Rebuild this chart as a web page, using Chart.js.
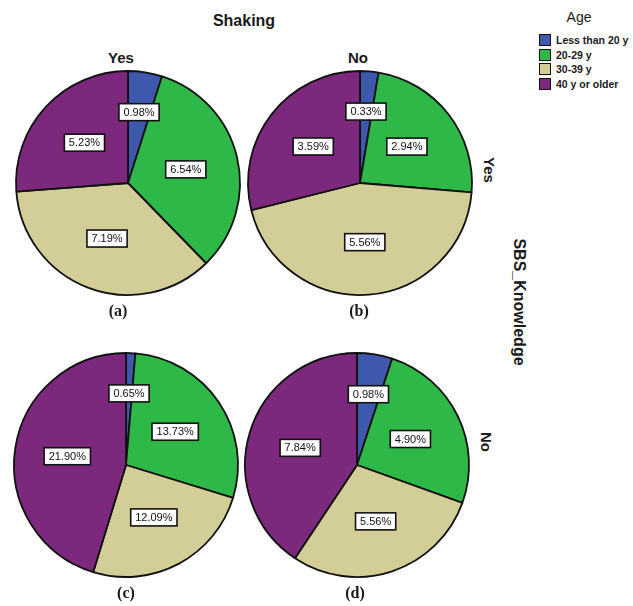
<!DOCTYPE html>
<html>
<head>
<meta charset="utf-8">
<script src="https://cdn.jsdelivr.net/npm/chart.js@4.4.1/dist/chart.umd.min.js"></script>
<style>
  html, body { margin: 0; padding: 0; background: #fff; }
  #wrap { position: relative; width: 633px; height: 606px; overflow: hidden; font-family: "Liberation Sans", Arial, sans-serif; color: #1a1a1a; }
  .pie { position: absolute; width: 240px; height: 240px; }
  .t { position: absolute; white-space: nowrap; transform: translate(-50%, -50%); }
  .hdr { font-weight: bold; font-size: 15px; }
  .rot { transform: translate(-50%, -50%) rotate(90deg); }
  .sub { font-family: "Liberation Serif", "Times New Roman", serif; font-weight: bold; font-size: 16px; }
  .leg { position: absolute; left: 539px; font-size: 10.5px; font-weight: bold; white-space: nowrap; }
  .leg span.box { display: inline-block; width: 10px; height: 10px; border: 1px solid #111; vertical-align: middle; margin-right: 5px; }
  .leg span.lbl { vertical-align: middle; }
</style>
</head>
<body>
<div id="wrap">
  <div class="t hdr" style="left:244px;top:21px;font-size:16px;">Shaking</div>
  <div class="t hdr" style="left:121px;top:57px;">Yes</div>
  <div class="t hdr" style="left:358px;top:57px;">No</div>
  <div class="t hdr rot" style="left:489px;top:170px;">Yes</div>
  <div class="t hdr rot" style="left:486px;top:442px;">No</div>
  <div class="t hdr rot" style="left:519px;top:302px;font-size:16px;">SBS_Knowledge</div>

  <div class="t" style="left:579px;top:17px;font-size:14px;">Age</div>
  <div id="legend"></div>

  <div class="pie" style="left:8px;top:63px;"><canvas id="pa" width="240" height="240"></canvas></div>
  <div class="pie" style="left:240px;top:63px;"><canvas id="pb" width="240" height="240"></canvas></div>
  <div class="pie" style="left:6px;top:345px;"><canvas id="pc" width="240" height="240"></canvas></div>
  <div class="pie" style="left:237px;top:345px;"><canvas id="pd" width="240" height="240"></canvas></div>

  <div class="t sub" style="left:118px;top:311px;">(a)</div>
  <div class="t sub" style="left:359px;top:311px;">(b)</div>
  <div class="t sub" style="left:126px;top:593px;">(c)</div>
  <div class="t sub" style="left:355px;top:593px;">(d)</div>
</div>
<script>
// Age groups and the share of all respondents (%) in each Shaking x SBS_Knowledge cell
const ageGroups = ['Less than 20 y', '20-29 y', '30-39 y', '40 y or older'];
const ageColors = ['#3E58AC', '#2EB848', '#D3CE97', '#7C287D'];

const shakingYesKnowledgeYes = [0.98, 6.54, 7.19, 5.23];
const shakingNoKnowledgeYes  = [0.33, 2.94, 5.56, 3.59];
const shakingYesKnowledgeNo  = [0.65, 13.73, 12.09, 21.90];
const shakingNoKnowledgeNo   = [0.98, 4.90, 5.56, 7.84];

// legend rows
const legendEl = document.getElementById('legend');
const legendTops = [33, 48, 62, 77];
ageGroups.forEach((g, i) => {
  const row = document.createElement('div');
  row.className = 'leg';
  row.style.top = legendTops[i] + 'px';
  row.innerHTML = '<span class="box" style="background:' + ageColors[i] + '"></span><span class="lbl"></span>';
  row.querySelector('.lbl').textContent = g;
  legendEl.appendChild(row);
});

// boxed percentage labels drawn inside each slice
const boxedLabels = {
  id: 'boxedLabels',
  afterDatasetsDraw(chart) {
    const ctx = chart.ctx;
    const meta = chart.getDatasetMeta(0);
    const values = chart.data.datasets[0].data;
    ctx.save();
    ctx.font = '11px "Liberation Sans", Arial, sans-serif';
    ctx.textAlign = 'center';
    ctx.textBaseline = 'middle';
    meta.data.forEach((arc, i) => {
      const p = arc.getProps(['x', 'y', 'startAngle', 'endAngle', 'outerRadius'], true);
      const mid = (p.startAngle + p.endAngle) / 2;
      const frac = (p.endAngle - p.startAngle) / (2 * Math.PI);
      const d = p.outerRadius * (frac < 0.1 ? 0.64 : 0.53);
      const cx = p.x + Math.cos(mid) * d;
      const cy = p.y + Math.sin(mid) * d;
      const txt = values[i].toFixed(2) + '%';
      const w = ctx.measureText(txt).width + 9;
      const h = 17;
      ctx.fillStyle = '#ffffff';
      ctx.fillRect(cx - w / 2, cy - h / 2, w, h);
      ctx.strokeStyle = '#111';
      ctx.lineWidth = 1.6;
      ctx.strokeRect(cx - w / 2, cy - h / 2, w, h);
      ctx.fillStyle = '#111';
      ctx.fillText(txt, cx, cy + 0.5);
    });
    ctx.restore();
  }
};

function makePie(id, values) {
  new Chart(document.getElementById(id), {
    type: 'pie',
    data: {
      labels: ageGroups,
      datasets: [{
        data: values,
        backgroundColor: ageColors,
        borderColor: '#111',
        borderWidth: 1.8
      }]
    },
    options: {
      responsive: false,
      animation: false,
      radius: 112,
      plugins: { legend: { display: false }, tooltip: { enabled: false } }
    },
    plugins: [boxedLabels]
  });
}

makePie('pa', shakingYesKnowledgeYes);
makePie('pb', shakingNoKnowledgeYes);
makePie('pc', shakingYesKnowledgeNo);
makePie('pd', shakingNoKnowledgeNo);
</script>
</body>
</html>
